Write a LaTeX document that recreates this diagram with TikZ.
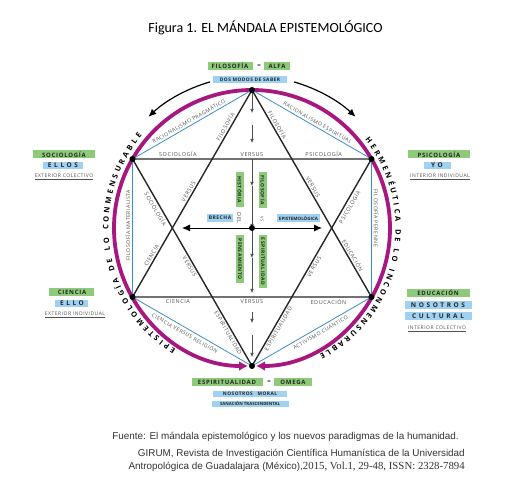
\documentclass[tikz,border=0pt]{standalone}
\usepackage{fontspec}
\setmainfont{Open Sans}
\newfontfamily\titlefont{Carlito}
\newfontfamily\arialfont{Liberation Sans}
\newfontfamily\timesfont{Liberation Serif}
\newfontfamily\labfont[LetterSpace=10]{Open Sans}
\newfontfamily\tagfont[LetterSpace=12]{Open Sans}
\newfontfamily\widefont[LetterSpace=40]{Open Sans}
\usepackage{xcolor}
\usepackage{tikz}
\usetikzlibrary{arrows.meta,positioning,calc,decorations.text}

\definecolor{mandalapink}{HTML}{A8177F}
\definecolor{hexblue}{HTML}{3D8CCF}
\definecolor{taggreen}{HTML}{8DCB7A}
\definecolor{tagblue}{HTML}{9FD1F0}
\definecolor{labgray}{HTML}{505050}
\definecolor{footgray}{HTML}{333333}

\begin{document}
\begin{tikzpicture}[
    x=1pt, y=1pt,
    >=Latex,
    starline/.style={draw=black!85, line width=1.4pt},
    hexside/.style={draw=hexblue, line width=0.8pt},
    ringarc/.style={draw=mandalapink, line width=3.8pt, -{Latex[length=9pt,width=10pt]}, shorten >=4pt},
    outarrow/.style={draw=black, line width=1.2pt, -{Latex[length=8pt,width=7pt]}},
    axisarrow/.style={draw=black!70, line width=0.6pt, -{Latex[length=4pt,width=3.5pt]}},
    lab/.style={font=\labfont\fontsize{5.5}{6}\selectfont, text=labgray, inner sep=2pt},
    hexlab/.style={lab, font=\labfont\fontsize{5.2}{6}\selectfont, inner sep=2.2pt},
    note/.style={font=\labfont\fontsize{5}{6}\selectfont, text=labgray, inner sep=0pt},
    tag/.style={inner sep=0pt, minimum height=8pt, text=black!85, font=\tagfont\bfseries\fontsize{6}{6}\selectfont},
    greentag/.style={tag, fill=taggreen},
    bluetag/.style={tag, fill=tagblue},
    widetag/.style={bluetag, font=\widefont\bfseries\fontsize{6.5}{6.5}\selectfont, minimum height=7.5pt},
    smalltag/.style={bluetag, font=\labfont\bfseries\fontsize{4.8}{5}\selectfont, minimum height=6.5pt},
    midtag/.style={tag, font=\labfont\bfseries\fontsize{5}{5}\selectfont, minimum height=8pt},
    source/.style={anchor=east, font=\arialfont\fontsize{9.9}{11}\selectfont, text=footgray, inner sep=0pt}
]
\useasboundingbox (-252,-266) rectangle (277,228);

% vertices of the hexagon
\coordinate (c) at (0,0);
\coordinate (vT) at (0,138);
\coordinate (vTL) at (-119.5,69);
\coordinate (vBL) at (-119.5,-69);
\coordinate (vB) at (0,-138);
\coordinate (vBR) at (119.5,-69);
\coordinate (vTR) at (119.5,69);

% title
\node[font=\titlefont\fontsize{14}{16}\selectfont] (title) at (13.5,200) {Figura 1. EL MÁNDALA EPISTEMOLÓGICO};

% ring
\draw[ringarc] (vT) arc[start angle=90, end angle=270, radius=138];
\draw[ringarc] (vT) arc[start angle=90, end angle=-90, radius=138];

% outer arrows at the top
\coordinate (arLs) at (106:152);
\coordinate (arRs) at (74:152);
\draw[outarrow] (arLs) arc[start angle=106, end angle=133, radius=152];
\draw[outarrow] (arRs) arc[start angle=74, end angle=47, radius=152];

% words round the ring
\path[decorate, decoration={text along path, text align={fit to path},
    text={|\bfseries\fontsize{7.5}{7.5}\selectfont|EPISTEMOLOGÍA DE LO CONMENSURABLE}}]
    (238:143.5) arc[start angle=238, end angle=140, radius=143.5];
\path[decorate, decoration={text along path, text align={fit to path},
    text={|\bfseries\fontsize{7.5}{7.5}\selectfont|HERMENÉUTICA DE LO INCONMENSURABLE}}]
    (38:143.5) arc[start angle=38, end angle=-62, radius=143.5];

% hexagon
\draw[hexside] (vT) -- (vTL) -- (vBL) -- (vB) -- (vBR) -- (vTR) -- cycle;
\path (vTL) -- (vT) node[hexlab, sloped, above, pos=0.49] (racP) {RACIONALISMO PRAGMÁTICO};
\path (vT) -- (vTR) node[hexlab, sloped, above, pos=0.53] (racE) {RACIONALISMO ESPIRITUAL};
\path (vBL) -- (vTL) node[hexlab, sloped, above, pos=0.52] (filM) {FILOSOFÍA MATERIALISTA};
\path (vTR) -- (vBR) node[hexlab, sloped, above, pos=0.43] (filP) {FILOSOFÍA PERENNE};
\path (vBL) -- (vB) node[hexlab, sloped, below, pos=0.46] (cvr) {CIENCIA VERSUS RELIGIÓN};
\path (vB) -- (vBR) node[hexlab, sloped, below, pos=0.55] (actC) {ACTIVISMO CUÁNTICO};

% star
\draw[starline] (vT) -- (vBL) -- (vBR) -- cycle;
\draw[starline] (vB) -- (vTL) -- (vTR) -- cycle;
\path (vTL) -- (vTR)
  node[lab, above, pos=0.19] (socT) {SOCIOLOGÍA}
  node[lab, above, pos=0.50] (verT) {VERSUS}
  node[lab, above, pos=0.80] (psiT) {PSICOLOGÍA};
\path (vBL) -- (vBR)
  node[lab, below, pos=0.19] (cieB) {CIENCIA}
  node[lab, below, pos=0.50] (verB) {VERSUS}
  node[lab, below, pos=0.82] (eduB) {EDUCACIÓN};
\path (vBL) -- (vT)
  node[lab, sloped, above, pos=0.19] (cieL) {CIENCIA}
  node[lab, sloped, above, pos=0.50] (verUL) {VERSUS}
  node[lab, sloped, above, pos=0.81] (filL) {FILOSOFÍA};
\path (vTL) -- (vB)
  node[lab, sloped, below, pos=0.23] (socL) {SOCIOLOGÍA}
  node[lab, sloped, below, pos=0.51] (verLL) {VERSUS}
  node[lab, sloped, below, pos=0.83] (espL) {ESPIRITUALIDAD};
\path (vT) -- (vBR)
  node[lab, sloped, above, pos=0.18] (filR) {FILOSOFÍA}
  node[lab, sloped, above, pos=0.48] (verUR) {VERSUS}
  node[lab, sloped, above, pos=0.81] (eduR) {EDUCACIÓN};
\path (vB) -- (vTR)
  node[lab, sloped, below, pos=0.19] (espR) {ESPIRITUALIDAD}
  node[lab, sloped, below, pos=0.49] (verLR) {VERSUS}
  node[lab, sloped, below, pos=0.78] (psiR) {PSICOLOGÍA};

% axes
\foreach \a/\b in {138/115, 103/85, 69/42, 42/0, 0/-30, -30/-65, -84/-95, -107/-129}
  \draw[axisarrow] (0,\a) -- (0,\b);
\coordinate (hL) at (-70,0);
\coordinate (hR) at (70,0);
\draw[line width=0.9pt, -{Latex[length=8pt,width=7pt]}] (c) -- (hL);
\draw[line width=0.9pt, -{Latex[length=8pt,width=7pt]}] (c) -- (hR);

% dots
\foreach \v in {vT,vTL,vBL,vB,vBR,vTR,c}
  \fill (\v) circle (3pt);

% middle tags
\node[midtag, fill=taggreen, rotate=-90, minimum width=35pt] (hist) at (-12,38.5) {HISTÓRIA};
\node[midtag, fill=taggreen, rotate=-90, minimum width=36pt] (filC) at (11,38) {FILOSOFÍA};
\node[midtag, fill=tagblue, minimum width=26pt] (brecha) at (-32,10) {BRECHA};
\node[lab, rotate=-90, inner sep=0pt] (del) at (-13,10) {DEL};
\node[lab, rotate=-90, inner sep=0pt, font=\labfont\fontsize{4}{4}\selectfont] (vsC) at (10,9) {VS};
\node[midtag, fill=tagblue, minimum width=43pt, font=\bfseries\fontsize{4.5}{5}\selectfont] (epis) at (46.5,10) {EPISTEMOLÓGICA};
\node[midtag, fill=taggreen, rotate=-90, minimum width=48pt] (pens) at (-12,-31) {PENSAMIENTO};
\node[midtag, fill=taggreen, rotate=-90, minimum width=53pt] (espC) at (11,-33.5) {ESPIRITUALIDAD};

% top and bottom tags
\node[greentag, minimum width=45pt] (filTag) at (-22,162) {FILOSOFÍA};
\node[font=\bfseries\fontsize{6}{6}\selectfont, text=black!70, inner sep=0pt] (eqT) at (7,162) {=};
\node[greentag, minimum width=26pt] (alfa) at (25,162) {ALFA};
\node[smalltag, minimum width=74pt] (dos) at (-2,148.5) {DOS MODOS DE SABER};
\node[greentag, minimum width=71pt] (espTag) at (-25,-154) {ESPIRITUALIDAD};
\node[font=\bfseries\fontsize{6}{6}\selectfont, text=black!70, inner sep=0pt] (eqB) at (17,-154) {=};
\node[greentag, minimum width=38pt] (omega) at (41,-154) {OMEGA};
\node[smalltag, minimum width=74pt] (moral) at (-2,-166) {NOSOTROS\quad MORAL};
\node[smalltag, minimum width=77pt, minimum height=6pt, font=\bfseries\fontsize{4.3}{5}\selectfont] (sana) at (-2,-176) {SANACIÓN TRASCENDENTAL};

% side tags
\node[greentag, minimum width=62pt] (socTag) at (-188,73.5) {SOCIOLOGÍA};
\node[widetag, minimum width=40pt] (ellos) at (-189,62.5) {ELLOS};
\node[note] (extC) at (-188,51) {\underline{EXTERIOR COLECTIVO}};
\node[greentag, minimum width=62pt] (psiTag) at (187,73.5) {PSICOLOGÍA};
\node[widetag, minimum width=27pt] (yo) at (185,62.5) {YO};
\node[note] (intI) at (188,51) {\underline{INTERIOR INDIVIDUAL}};
\node[greentag, minimum width=45pt] (cieTag) at (-180,-64) {CIENCIA};
\node[widetag, minimum width=33pt] (ello) at (-180,-75.5) {ELLO};
\node[note] (extI) at (-177,-87) {\underline{EXTERIOR INDIVIDUAL}};
\node[greentag, minimum width=63pt] (eduTag) at (186,-65) {EDUCACIÓN};
\node[widetag, minimum width=67pt, minimum height=8pt] (nos) at (186,-77) {NOSOTROS};
\node[widetag, minimum width=67pt, minimum height=8pt] (cult) at (186,-88) {CULTURAL};
\node[note] (intC) at (185,-101) {\underline{INTERIOR COLECTIVO}};

% source
\node[source] (src1) at (207,-209)
  {Fuente: El mándala epistemológico y los nuevos paradigmas de la humanidad.};
\node[source] (src2) at (213,-226)
  {GIRUM, Revista de Investigación Científica Humanística de la Universidad};
\node[source] (src3) at (213,-239)
  {Antropológica de Guadalajara (México),{\timesfont\fontsize{10.8}{11}\selectfont 2015, Vol.1, 29-48, ISSN: 2328-7894}};
\end{tikzpicture}
\end{document}
